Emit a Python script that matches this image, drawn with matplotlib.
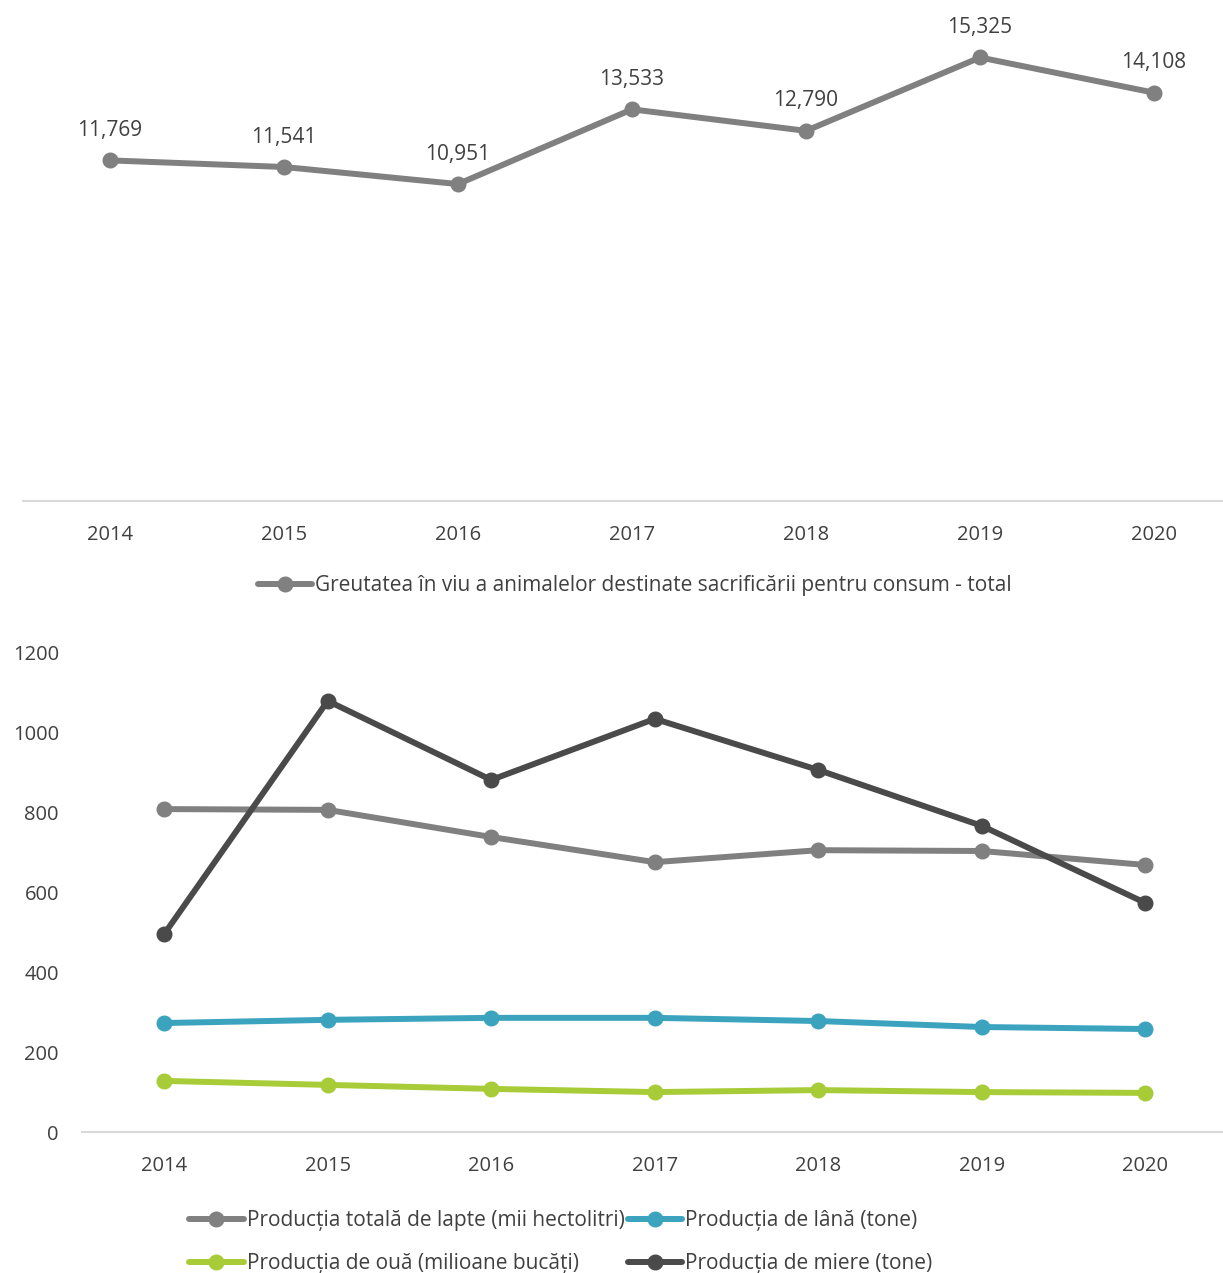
import matplotlib
matplotlib.use("Agg")
import matplotlib.pyplot as plt

plt.rcParams['font.family'] = ['Open Sans', 'DejaVu Sans']

years = ['2014', '2015', '2016', '2017', '2018', '2019', '2020']

# Top chart
live_weight = [11769, 11541, 10951, 13533, 12790, 15325, 14108]
live_weight_labels = ['11,769', '11,541', '10,951', '13,533', '12,790', '15,325', '14,108']
top_legend = 'Greutatea în viu a animalelor destinate sacrificării pentru consum - total'

# Bottom chart
milk = [809, 807, 739, 676, 706, 704, 669]
wool = [273, 281, 286, 286, 278, 263, 258]
eggs = [128, 118, 108, 100, 105, 100, 98]
honey = [496, 1080, 882, 1035, 907, 767, 574]
names = ['Producția totală de lapte (mii hectolitri)',
         'Producția de lână (tone)',
         'Producția de ouă (milioane bucăți)',
         'Producția de miere (tone)']
yticks_bottom = [0, 200, 400, 600, 800, 1000, 1200]

W, H = 1223, 1273
fig = plt.figure(figsize=(W / 100, H / 100), dpi=100)

text_color = '#404040'
spine_color = '#D9D9D9'
lw = 4.3
ms = 10.5
fs = 15
tfs = 14.5

def frac(x0, y_top, x1, y_bot):
    return [x0 / W, 1 - y_bot / H, (x1 - x0) / W, (y_bot - y_top) / H]

# ---------- Top axes ----------
ax1 = fig.add_axes(frac(23, 9, 1241, 501))
x = list(range(len(years)))
ax1.plot(x, live_weight, color='#808080', lw=lw, marker='o', ms=ms,
         solid_capstyle='round', label=top_legend)
for xi, v, lab in zip(x, live_weight, live_weight_labels):
    ax1.annotate(lab, (xi, v), xytext=(0, 14), textcoords='offset points',
                 ha='center', va='bottom', fontsize=fs, color=text_color)
ax1.set_xlim(-0.5, len(years) - 0.5)
ax1.set_ylim(0, 17000)
ax1.set_xticks(x)
ax1.set_xticklabels(years)
ax1.set_yticks([])
for s in ['top', 'right', 'left']:
    ax1.spines[s].set_visible(False)
ax1.spines['bottom'].set_color(spine_color)
ax1.spines['bottom'].set_linewidth(1.5)
ax1.tick_params(axis='x', length=0, pad=17, labelsize=tfs, labelcolor=text_color)
ax1.legend(loc='center', bbox_to_anchor=((635 - 23) / 1218, (501 - 586) / 492),
           frameon=False, fontsize=fs, labelcolor=text_color,
           handlelength=2.6, handletextpad=0.15)

# ---------- Bottom axes ----------
ax2 = fig.add_axes(frac(82.5, 653, 1227, 1132))
colors = ['#808080', '#3CA3BF', '#A8CB38', '#4A4A4A']
series = [milk, wool, eggs, honey]
handles = []
for vals, c, n in zip(series, colors, names):
    h, = ax2.plot(x, vals, color=c, lw=lw, marker='o', ms=ms, label=n,
                  solid_capstyle='round')
    handles.append(h)
ax2.set_xlim(-0.5, len(years) - 0.5)
ax2.set_ylim(0, 1200)
ax2.set_xticks(x)
ax2.set_xticklabels(years)
ax2.set_yticks(yticks_bottom)
for s in ['top', 'right', 'left']:
    ax2.spines[s].set_visible(False)
ax2.spines['bottom'].set_color(spine_color)
ax2.spines['bottom'].set_linewidth(1.5)
ax2.tick_params(axis='x', length=0, pad=17, labelsize=tfs, labelcolor=text_color)
ax2.tick_params(axis='y', length=0, pad=17, labelsize=tfs, labelcolor=text_color)
order = [0, 2, 1, 3]
ax2.legend([handles[i] for i in order], [names[i] for i in order],
           loc='upper left', bbox_to_anchor=((181 - 82.5) / 1144.5, (1132 - 1202) / 479),
           ncol=2, frameon=False, fontsize=fs, labelcolor=text_color,
           handlelength=2.6, handletextpad=0.15, columnspacing=0.15,
           labelspacing=1.05, borderaxespad=0)

fig.savefig('out.png', dpi=100)
